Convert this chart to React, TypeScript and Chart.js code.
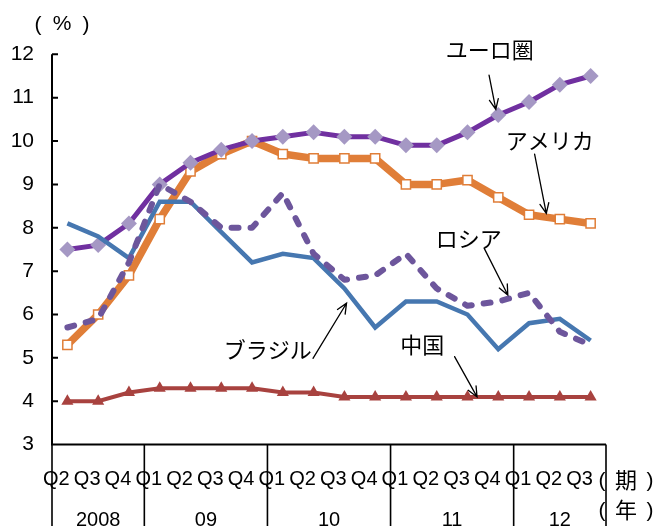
import React, { useEffect, useRef } from 'react';
import { Chart, registerables } from 'chart.js';

Chart.register(...registerables);

// Quarterly unemployment rate (%), 2008 Q2 – 2012 Q3
const quarterLabels = ['Q2', 'Q3', 'Q4', 'Q1', 'Q2', 'Q3', 'Q4', 'Q1', 'Q2', 'Q3', 'Q4', 'Q1', 'Q2', 'Q3', 'Q4', 'Q1', 'Q2', 'Q3'];
const yearLabels = ['2008', '09', '10', '11', '12'];
const quartersPerYear = [3, 4, 4, 4, 3];

const euroArea = [7.5, 7.6, 8.1, 9.0, 9.5, 9.8, 10.0, 10.1, 10.2, 10.1, 10.1, 9.9, 9.9, 10.2, 10.6, 10.9, 11.3, 11.5];
const america = [5.3, 6.0, 6.9, 8.2, 9.3, 9.7, 10.0, 9.7, 9.6, 9.6, 9.6, 9.0, 9.0, 9.1, 8.7, 8.3, 8.2, 8.1];
const brazil = [8.1, 7.8, 7.3, 8.6, 8.6, 7.9, 7.2, 7.4, 7.3, 6.6, 5.7, 6.3, 6.3, 6.0, 5.2, 5.8, 5.9, 5.4];
const russia = [5.7, 5.9, 7.2, 9.0, 8.6, 8.0, 8.0, 8.8, 7.4, 6.8, 6.9, 7.4, 6.6, 6.2, 6.3, 6.5, 5.6, 5.3];
const china = [4.0, 4.0, 4.2, 4.3, 4.3, 4.3, 4.3, 4.2, 4.2, 4.1, 4.1, 4.1, 4.1, 4.1, 4.1, 4.1, 4.1, 4.1];

const yMin = 3;
const yMax = 12;

// Callout labels: text centre and arrow ends, in (quarter index, %) units
const callouts = [
  { text: 'ユーロ圏', at: [13.72, 12.1], from: [13.7, 11.52], to: [13.92, 10.73] },
  { text: 'アメリカ', at: [15.67, 10.02], from: [15.18, 9.7], to: [15.56, 8.33] },
  { text: 'ロシア', at: [13.04, 7.75], from: [13.54, 7.53], to: [14.31, 6.45] },
  { text: 'ブラジル', at: [6.51, 5.18], from: [7.98, 4.99], to: [9.07, 6.26] },
  { text: '中国', at: [11.53, 5.3], from: [12.58, 5.03], to: [13.31, 4.1] },
];

const LATIN = "'Liberation Sans', Arial, sans-serif";
const CJK = "'Noto Sans CJK JP', 'Noto Sans CJK SC', sans-serif";

const decorations = {
  id: 'decorations',
  beforeDatasetsDraw(chart: any) {
    const { ctx, chartArea: a, scales } = chart;
    const x = scales.x;
    const y = scales.y;
    ctx.save();
    ctx.strokeStyle = '#000';
    ctx.lineCap = 'butt';

    // value axis with ticks pointing into the plot
    ctx.lineWidth = 2;
    ctx.beginPath();
    ctx.moveTo(a.left, a.top);
    ctx.lineTo(a.left, a.bottom + 1);
    for (const t of y.ticks) {
      const py = y.getPixelForValue(t.value);
      ctx.moveTo(a.left, py);
      ctx.lineTo(a.left + 6, py);
    }
    // category axis
    ctx.moveTo(a.left, a.bottom);
    ctx.lineTo(a.right, a.bottom);
    ctx.stroke();

    // year group separators
    ctx.lineWidth = 1.6;
    ctx.beginPath();
    let idx = 0;
    const bounds = [0];
    for (const n of quartersPerYear) {
      idx += n;
      bounds.push(idx);
    }
    for (const b of bounds) {
      const px = x.getPixelForValue(b - 0.5);
      ctx.moveTo(px, a.bottom);
      ctx.lineTo(px, chart.height);
    }
    ctx.stroke();
    ctx.restore();
  },
  afterDraw(chart: any) {
    const { ctx, chartArea: a, scales } = chart;
    const x = scales.x;
    const y = scales.y;
    ctx.save();
    ctx.fillStyle = '#000';

    // quarter labels
    ctx.font = `20px ${LATIN}`;
    ctx.textAlign = 'center';
    ctx.textBaseline = 'alphabetic';
    quarterLabels.forEach((q, i) => {
      ctx.fillText(q, x.getPixelForValue(i) - 11, a.bottom + 40);
    });

    // year labels centred under their quarters
    let start = 0;
    yearLabels.forEach((yr, i) => {
      const end = start + quartersPerYear[i];
      const cx = (x.getPixelForValue(start - 0.5) + x.getPixelForValue(end - 0.5)) / 2;
      ctx.fillText(yr, cx, a.bottom + 81);
      start = end;
    });

    // unit labels
    const bracket = (inner: string, innerFont: string, cx: number, cy: number) => {
      ctx.textBaseline = 'middle';
      ctx.textAlign = 'center';
      ctx.font = `21px ${LATIN}`;
      ctx.fillText('(', cx - 24, cy + 1);
      ctx.fillText(')', cx + 24, cy + 1);
      ctx.font = innerFont;
      ctx.fillText(inner, cx, cy);
    };
    bracket('%', `21px ${LATIN}`, a.left + 10, 24);
    bracket('期', `22px ${CJK}`, a.right + 20, 480);
    bracket('年', `22px ${CJK}`, a.right + 20, 510);

    // callouts
    ctx.strokeStyle = '#000';
    ctx.lineWidth = 1.3;
    ctx.lineCap = 'round';
    for (const c of callouts) {
      ctx.font = `22px ${CJK}`;
      ctx.textAlign = 'center';
      ctx.textBaseline = 'middle';
      ctx.fillText(c.text, x.getPixelForValue(c.at[0]), y.getPixelForValue(c.at[1]));
      const x0 = x.getPixelForValue(c.from[0]);
      const y0 = y.getPixelForValue(c.from[1]);
      const x1 = x.getPixelForValue(c.to[0]);
      const y1 = y.getPixelForValue(c.to[1]);
      const ang = Math.atan2(y1 - y0, x1 - x0);
      const head = 11;
      const spread = 0.42;
      ctx.beginPath();
      ctx.moveTo(x0, y0);
      ctx.lineTo(x1, y1);
      ctx.moveTo(x1 - head * Math.cos(ang - spread), y1 - head * Math.sin(ang - spread));
      ctx.lineTo(x1, y1);
      ctx.lineTo(x1 - head * Math.cos(ang + spread), y1 - head * Math.sin(ang + spread));
      ctx.stroke();
    }
    ctx.restore();
  },
};

export default function App() {
  const canvasRef = useRef<HTMLCanvasElement | null>(null);

  useEffect(() => {
    const canvas = canvasRef.current;
    if (!canvas) return;
    const chart = new Chart(canvas, {
      type: 'line',
      data: {
        labels: quarterLabels.map((q, i) => `${i}-${q}`),
        datasets: [
          {
            label: 'ロシア',
            data: russia,
            borderColor: '#6d569c',
            borderWidth: 6,
            borderDash: [7, 12],
            borderCapStyle: 'round',
            borderJoinStyle: 'round',
            pointRadius: 0,
            tension: 0,
            order: 0,
          },
          {
            label: '中国',
            data: china,
            borderColor: '#a8423f',
            backgroundColor: '#a8423f',
            borderWidth: 4,
            pointStyle: 'triangle',
            pointRadius: 7,
            pointBorderWidth: 0,
            pointBackgroundColor: '#a8423f',
            tension: 0,
            order: 1,
          },
          {
            label: 'ブラジル',
            data: brazil,
            borderColor: '#4677b0',
            borderWidth: 4.5,
            pointRadius: 0,
            tension: 0,
            order: 2,
          },
          {
            label: 'ユーロ圏',
            data: euroArea,
            borderColor: '#7030a0',
            borderWidth: 5,
            borderJoinStyle: 'round',
            pointStyle: 'rectRot',
            pointRadius: 8,
            pointBorderWidth: 0,
            pointBackgroundColor: '#a598c4',
            tension: 0,
            order: 3,
          },
          {
            label: 'アメリカ',
            data: america,
            borderColor: '#e07e38',
            borderWidth: 7.5,
            borderJoinStyle: 'round',
            pointStyle: 'rect',
            pointRadius: 6.5,
            pointBorderWidth: 1.5,
            pointBorderColor: '#e07e38',
            pointBackgroundColor: '#ffffff',
            tension: 0,
            order: 4,
          },
        ],
      },
      options: {
        responsive: false,
        animation: false,
        layout: { padding: { top: 54.3, right: 52, bottom: 81.4, left: 0 } },
        plugins: {
          legend: { display: false },
          tooltip: { enabled: false },
        },
        scales: {
          x: {
            type: 'category',
            display: false,
            offset: true,
          },
          y: {
            min: yMin,
            max: yMax,
            afterFit: (scale: any) => {
              scale.width = 52;
            },
            ticks: {
              stepSize: 1,
              color: '#000',
              padding: 18,
              font: { family: LATIN, size: 21 },
            },
            grid: { display: false, drawTicks: false },
            border: { display: false },
          },
        },
      },
      plugins: [decorations],
    });
    return () => chart.destroy();
  }, []);

  return (
    <div style={{ position: 'fixed', left: 0, top: 0, width: 658, height: 526, background: '#fff' }}>
      <canvas ref={canvasRef} width={658} height={526} style={{ display: 'block' }} />
    </div>
  );
}
